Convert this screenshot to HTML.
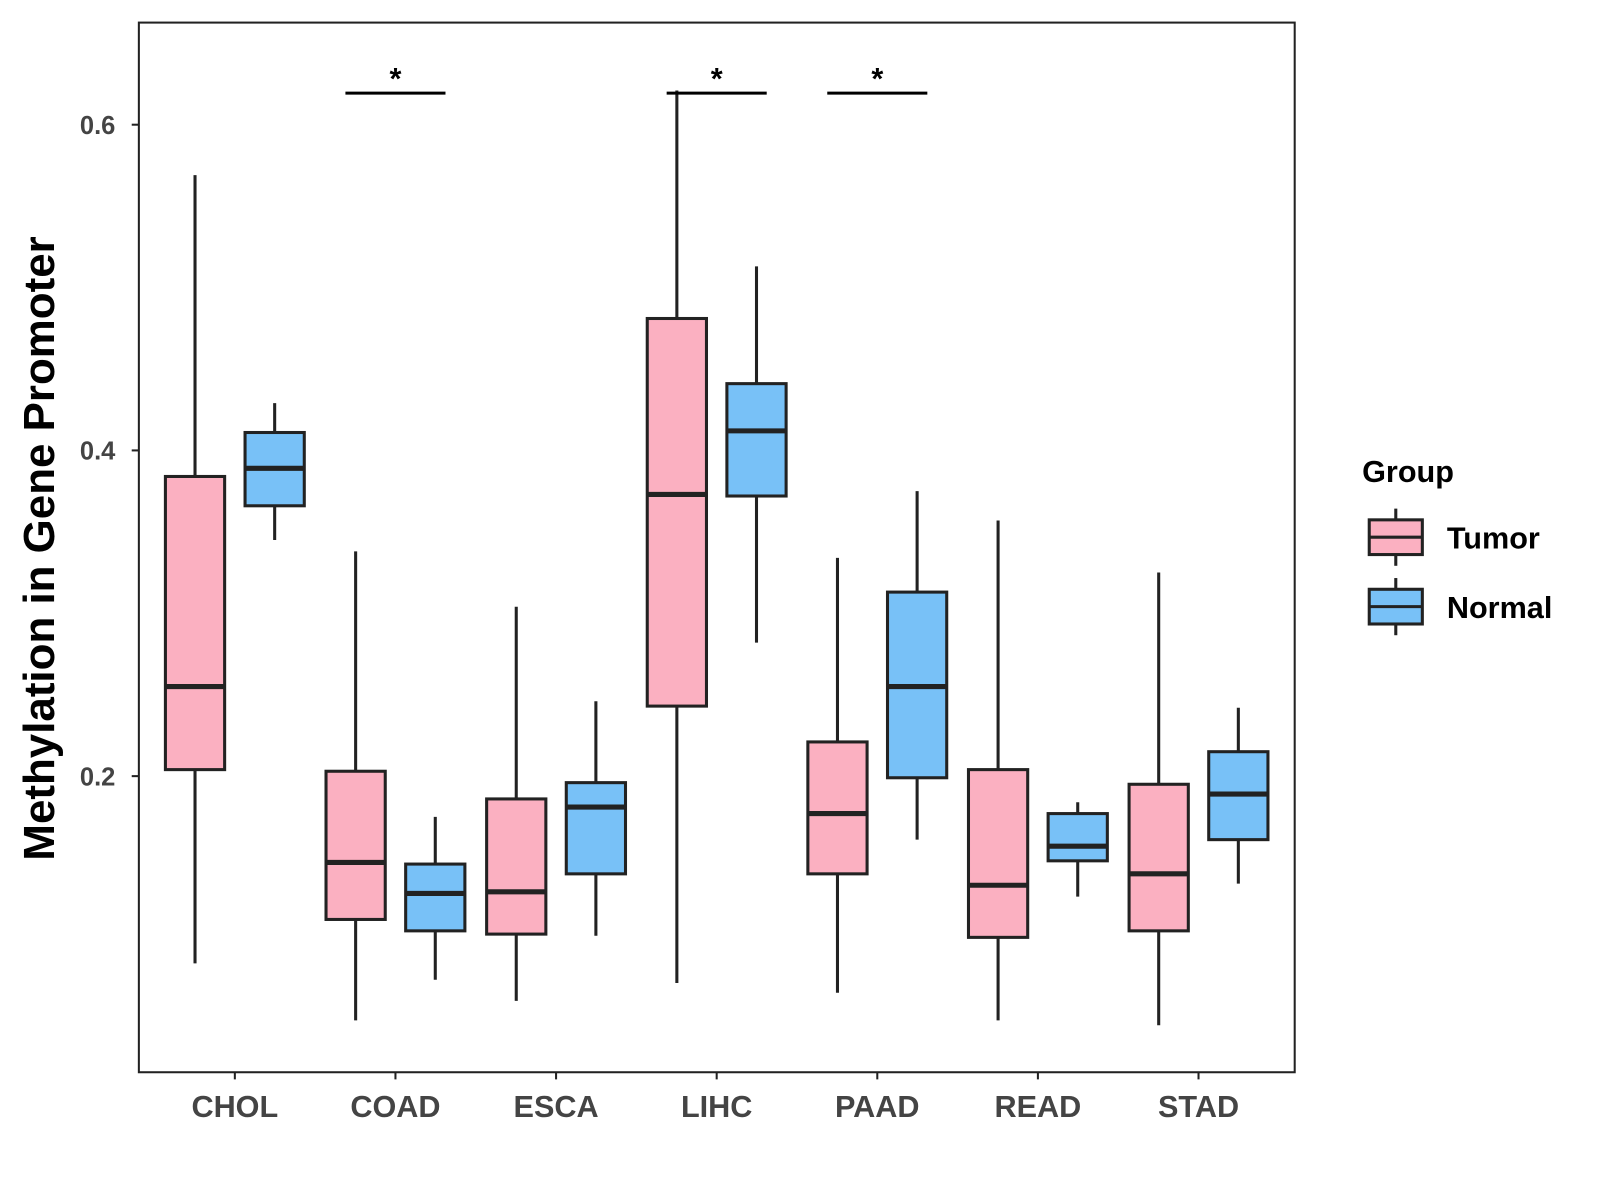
<!DOCTYPE html>
<html><head><meta charset="utf-8"><style>
html,body{margin:0;padding:0;background:#fff;}
svg{display:block;font-family:"Liberation Sans",Arial,sans-serif;}
</style></head><body>
<svg id="chart" width="1600" height="1200" viewBox="0 0 1567 1175">
<rect x="136" y="22" width="1132" height="1028" fill="#fff" stroke="#222" stroke-width="2"/>
<g id="ticks"></g>
<g id="boxes"></g>
<g id="sig"></g>
<text x="0" y="0" transform="translate(53,537) rotate(-90)" text-anchor="middle" font-size="43" font-weight="bold" fill="#000">Methylation in Gene Promoter</text>
<g>
<text x="1334" y="472" font-size="30" font-weight="bold" fill="#000">Group</text>
<g>
<line x1="1367" y1="498" x2="1367" y2="554" stroke="#222" stroke-width="3"/>
<rect x="1341" y="509" width="52" height="34" fill="#FBB0C1" stroke="#222" stroke-width="3"/>
<line x1="1341" y1="526" x2="1393" y2="526" stroke="#222" stroke-width="3"/>
<text x="1417" y="537" font-size="30" font-weight="bold" fill="#000">Tumor</text>
</g>
<g>
<line x1="1367" y1="566" x2="1367" y2="622" stroke="#222" stroke-width="3"/>
<rect x="1341" y="577" width="52" height="34" fill="#78C1F7" stroke="#222" stroke-width="3"/>
<line x1="1341" y1="594" x2="1393" y2="594" stroke="#222" stroke-width="3"/>
<text x="1417" y="605" font-size="30" font-weight="bold" fill="#000">Normal</text>
</g>
</g>
</svg>
<script>
const categories=["CHOL","COAD","ESCA","LIHC","PAAD","READ","STAD"];
// [min,q1,median,q3,max]
const tumorStats=[[0.085,0.204,0.255,0.384,0.569],[0.050,0.112,0.147,0.203,0.338],[0.062,0.103,0.129,0.186,0.304],[0.073,0.243,0.373,0.481,0.621],[0.067,0.140,0.177,0.221,0.334],[0.050,0.101,0.133,0.204,0.357],[0.047,0.105,0.140,0.195,0.325]];
const normalStats=[[0.345,0.366,0.389,0.411,0.429],[0.075,0.105,0.128,0.146,0.175],[0.102,0.140,0.181,0.196,0.246],[0.282,0.372,0.412,0.441,0.513],[0.161,0.199,0.255,0.313,0.375],[0.126,0.148,0.157,0.177,0.184],[0.134,0.161,0.189,0.215,0.242]];
const yTicks=[0.2,0.4,0.6];
const sigCategories=["COAD","LIHC","PAAD"];
const sigLevel=0.62;
const NS="http://www.w3.org/2000/svg";
function y(v){return 760-(v-0.2)*1595;}
function x(i){return 230+i*157.3;}
function mk(tag,attrs,parent){const e=document.createElementNS(NS,tag);for(const k in attrs)e.setAttribute(k,attrs[k]);parent.appendChild(e);return e;}
const tg=document.getElementById('ticks');
yTicks.forEach(t=>{
 mk('line',{x1:129,x2:136,y1:y(t),y2:y(t),stroke:'#222','stroke-width':2},tg);
 const tx=mk('text',{x:113,y:y(t)+9,'text-anchor':'end','font-size':25,'font-weight':'bold',fill:'#444'},tg);
 tx.textContent=t.toFixed(1);
 
 
});
categories.forEach((c,i)=>{
 mk('line',{x1:x(i),x2:x(i),y1:1050,y2:1057,stroke:'#222','stroke-width':2},tg);
 const tx=mk('text',{x:x(i),y:1094,'text-anchor':'middle','font-size':30,'font-weight':'bold',fill:'#444'},tg);
 tx.textContent=c;
 
 
});
const bg=document.getElementById('boxes');
function box(s,cx,fill,name){
 const g=mk('g',{},bg);
 
 
 mk('line',{x1:cx,x2:cx,y1:y(s[0]),y2:y(s[4]),stroke:'#222','stroke-width':3},g);
 mk('rect',{x:cx-29,y:y(s[3]),width:58,height:y(s[1])-y(s[3]),fill:fill,stroke:'#222','stroke-width':3},g);
 mk('line',{x1:cx-29,x2:cx+29,y1:y(s[2]),y2:y(s[2]),stroke:'#222','stroke-width':5},g);
}
categories.forEach((c,i)=>{
 box(tumorStats[i],x(i)-39,'#FBB0C1','box-tumor-'+c.toLowerCase());
 box(normalStats[i],x(i)+39,'#78C1F7','box-normal-'+c.toLowerCase());
});
const sg=document.getElementById('sig');
sigCategories.forEach(c=>{
 const i=categories.indexOf(c);
 const g=mk('g',{},sg);
 
 
 mk('line',{x1:x(i)-49,x2:x(i)+49,y1:y(sigLevel)+1,y2:y(sigLevel)+1,stroke:'#000','stroke-width':3},g);
 const t=mk('text',{x:x(i),y:y(sigLevel)-3,'text-anchor':'middle','font-size':30,'font-weight':'bold',fill:'#000'},g);
 t.textContent='*';
});
</script>
</body></html>
